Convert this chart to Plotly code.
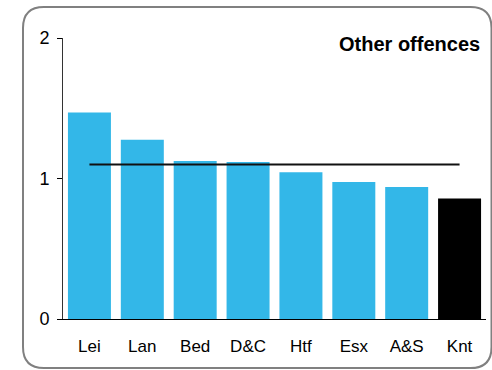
import plotly.graph_objects as go

categories = ["Lei", "Lan", "Bed", "D&C", "Htf", "Esx", "A&S", "Knt"]
values = [1.47, 1.275, 1.125, 1.117, 1.045, 0.975, 0.94, 0.858]
average = [1.1] * len(categories)
highlight = "Knt"
title_text = "Other offences"
y_ticks = [0, 1, 2]

W, H = 492, 370
ML, MR, MT, MB = 63, 6, 38, 51
PW, PH = W - ML - MR, H - MT - MB

def px(x, y):
    return (x - ML) / PW, (H - MB - y) / PH

colors = ["#000000" if c == highlight else "#33B7E8" for c in categories]

fig = go.Figure()
fig.add_trace(go.Bar(x=categories, y=values, marker=dict(color=colors, line=dict(width=0)),
                     hoverinfo="skip"))
fig.add_trace(go.Scatter(x=categories, y=average, mode="lines",
                         line=dict(color="#111111", width=2), hoverinfo="skip"))

# rounded border
x0, y0, x1, y1, r = 23, 7, 491.5, 368, 21
def P(x, y):
    a, b = px(x, y)
    return f"{a:.5f},{b:.5f}"
path = (f"M {P(x0 + r, y0)} L {P(x1 - r, y0)} Q {P(x1, y0)} {P(x1, y0 + r)} "
        f"L {P(x1, y1 - r)} Q {P(x1, y1)} {P(x1 - r, y1)} "
        f"L {P(x0 + r, y1)} Q {P(x0, y1)} {P(x0, y1 - r)} "
        f"L {P(x0, y0 + r)} Q {P(x0, y0)} {P(x0 + r, y0)} Z")
fig.add_shape(type="path", path=path, xref="paper", yref="paper",
              line=dict(color="#808080", width=2), layer="above")

tx, ty = px(482, 44)
fig.add_annotation(text=f"<b>{title_text}</b>", x=tx, y=ty, xref="paper", yref="paper",
                   xanchor="right", yanchor="middle", showarrow=False,
                   font=dict(family="Liberation Sans, Arial", size=20, color="#000"))

fig.update_layout(
    width=W, height=H,
    margin=dict(l=ML, r=MR, t=MT, b=MB),
    paper_bgcolor="white", plot_bgcolor="white",
    showlegend=False, bargap=0.187,
    font=dict(family="Liberation Sans, Arial", size=17, color="#000"),
)
fig.update_xaxes(showline=True, linecolor="#000", linewidth=1, ticks="outside",
                 ticklen=12, tickcolor="rgba(0,0,0,0)", showgrid=False,
                 tickfont=dict(size=17))
fig.update_yaxes(range=[0, 2], tickvals=y_ticks, showline=True, linecolor="#333",
                 linewidth=1, ticks="outside", ticklen=5, tickcolor="#000",
                 showgrid=False, zeroline=False, ticklabelstandoff=4,
                 tickfont=dict(size=18))

fig.write_html("out.html", config={"displayModeBar": False},
               post_script="document.body.style.margin='0';")
